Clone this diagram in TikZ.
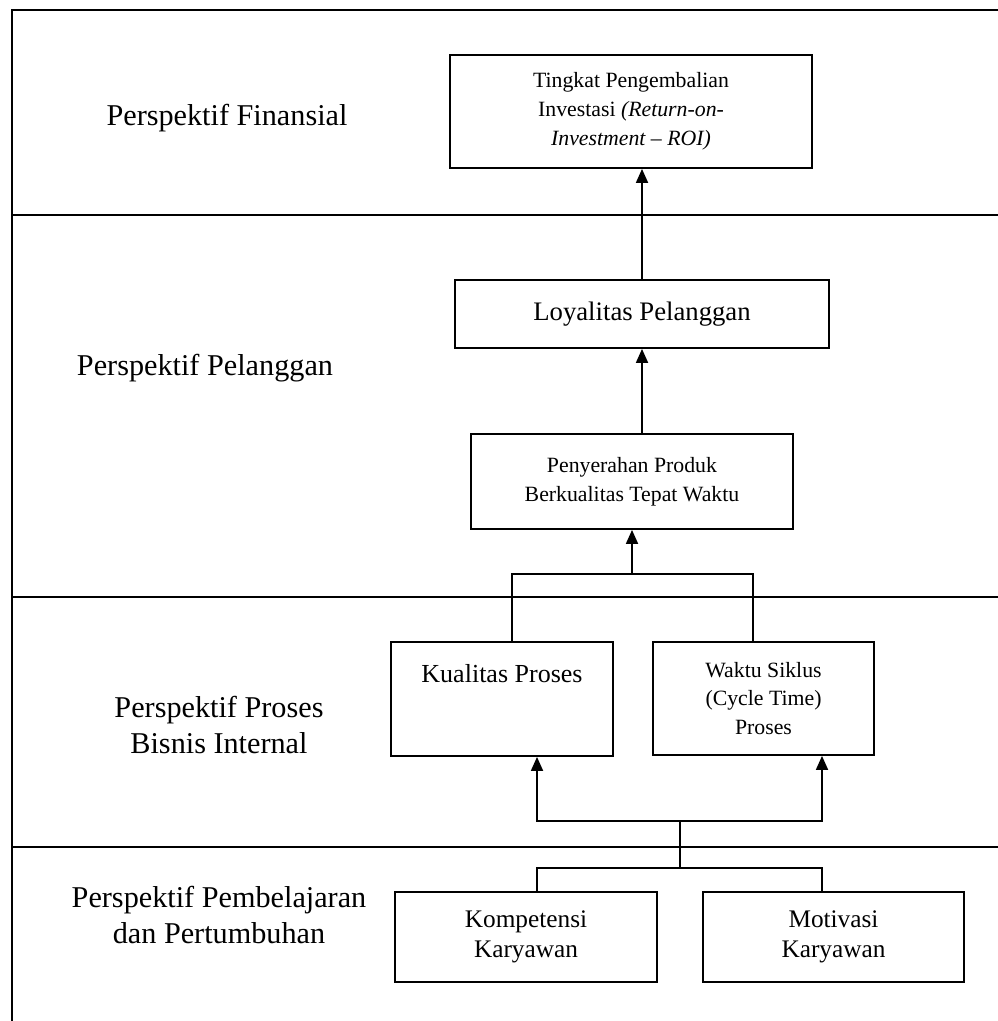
\documentclass[tikz,border=0pt]{standalone}
\usepackage{fontspec}
\setmainfont{Liberation Serif}
\usepackage{tikz}
\usetikzlibrary{positioning,arrows.meta}

\begin{document}
\begin{tikzpicture}[
  every node/.style={font=\fontsize{15.5}{20.5}\selectfont},
  frame/.style={line width=1.3pt},
  persp/.style={align=center, font=\fontsize{21.5}{26}\selectfont},
  goal/.style={rectangle, draw, line width=1.3pt, inner sep=0pt, align=center},
  link/.style={line width=1.3pt},
  >={Triangle[length=3.5mm,width=3mm]}
]
  \useasboundingbox (0,0) rectangle (24.95,-25.525);
  \draw[frame] (24.95,-0.25) -- (0.3,-0.25) -- (0.3,-25.525);
  \draw[frame] (0.3,-5.375) -- (24.95,-5.375);
  \draw[frame] (0.3,-14.925) -- (24.95,-14.925);
  \draw[frame] (0.3,-21.175) -- (24.95,-21.175);

  \node[persp] (fin) at (5.675,-2.95) {Perspektif Finansial};
  \node[persp] (pel) at (5.125,-9.2) {Perspektif Pelanggan};
  \node[persp] (pros) at (5.475,-18.125) {Perspektif Proses\\Bisnis Internal};
  \node[persp] (bel) at (5.475,-22.875) {Perspektif Pembelajaran\\dan Pertumbuhan};

  \node[goal, minimum width=9.05cm, minimum height=2.825cm] (roi) at (15.775,-2.7875)
    {Tingkat Pengembalian\\Investasi \textit{(Return-on-}\\\textit{Investment -- ROI)}};
  \node[goal, minimum width=9.35cm, minimum height=1.7cm, font=\fontsize{19}{23}\selectfont]
    (loyal) at (16.05,-7.85) {Loyalitas Pelanggan};
  \node[goal, minimum width=8.05cm, minimum height=2.375cm] (serah) at (15.8,-12.0375)
    {Penyerahan Produk\\Berkualitas Tepat Waktu};
  \node[goal, minimum width=5.55cm, text height=1cm, text depth=1.85cm,
    font=\fontsize{18.5}{22}\selectfont] (kual) at (12.55,-17.475) {Kualitas Proses};
  \node[goal, minimum width=5.525cm, minimum height=2.825cm] (waktu) at (19.0875,-17.4625)
    {Waktu Siklus\\(Cycle Time)\\Proses};
  \node[goal, minimum width=6.55cm, minimum height=2.25cm, font=\fontsize{18}{21.5}\selectfont]
    (komp) at (13.15,-23.425) {Kompetensi\\Karyawan};
  \node[goal, minimum width=6.525cm, minimum height=2.25cm, font=\fontsize{18}{21.5}\selectfont]
    (motiv) at (20.8375,-23.425) {Motivasi\\Karyawan};

  \coordinate (jtop) at (15.8,-14.35);
  \coordinate (jup) at (17,-20.525);
  \coordinate (jlow) at (17,-21.7);
  \coordinate (kl) at (13.425,-21.7);
  \coordinate (kr) at (20.55,-21.7);

  \draw[->,link] (loyal.north) -- (loyal.north |- roi.south);
  \draw[->,link] (loyal.south |- serah.north) -- (loyal.south);
  \draw[->,link] (jtop) -- (serah.south);
  \draw[link] ([xshift=2.5mm]kual.north) |- (jtop) -| ([xshift=-2.6mm]waktu.north);
  \draw[<->,link] (kual.south -| kl) |- (jup) -| (waktu.south -| kr);
  \draw[link] (jup) -- (jlow);
  \draw[link] (komp.north -| kl) |- (jlow) -| (motiv.north -| kr);
\end{tikzpicture}
\end{document}
